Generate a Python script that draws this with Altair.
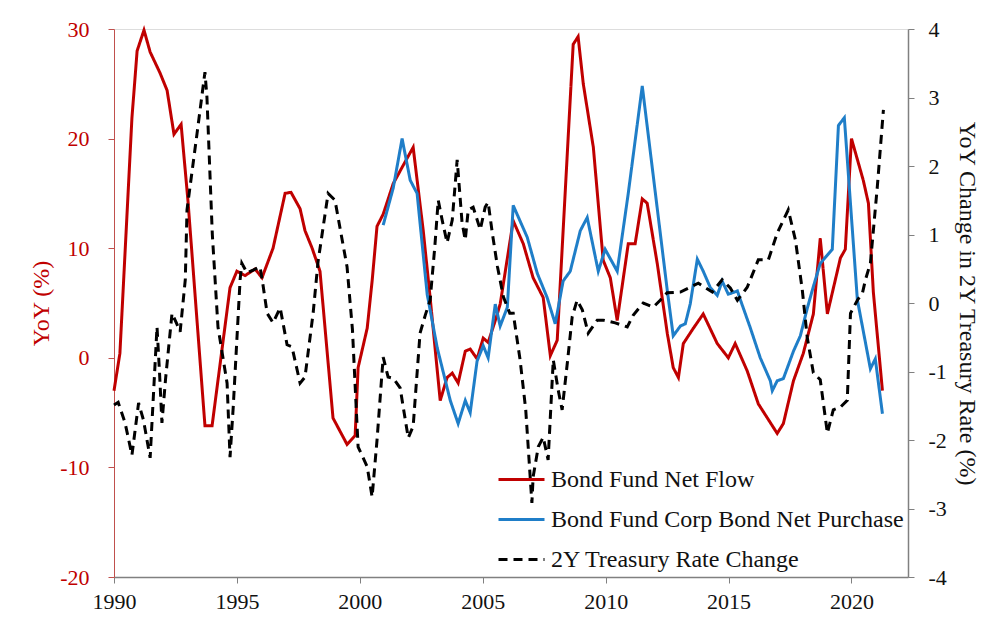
import altair as alt
import pandas as pd

# Bond Fund Net Flow (YoY %, left axis)
red_year = [1990.0, 1990.24, 1990.73, 1990.94, 1991.22, 1991.47, 1991.87, 1992.16, 1992.44, 1992.73,
            1993.01, 1993.7, 1993.99, 1994.72, 1995.0, 1995.33, 1995.74, 1996.02, 1996.47, 1996.96,
            1997.2, 1997.57, 1997.77, 1998.06, 1998.38, 1998.91, 1999.48, 1999.81, 1999.93, 2000.3,
            2000.5, 2000.7, 2000.95, 2001.36, 2001.75, 2002.17, 2002.58, 2002.86, 2003.27, 2003.55,
            2003.76, 2004.0, 2004.29, 2004.49, 2004.77, 2005.02, 2005.22, 2005.51, 2005.71, 2006.24,
            2006.65, 2007.05, 2007.46, 2007.75, 2008.03, 2008.68, 2008.88, 2009.09, 2009.5, 2009.9,
            2010.19, 2010.47, 2010.92, 2011.2, 2011.49, 2011.69, 2012.1, 2012.51, 2012.75, 2012.96,
            2013.16, 2013.57, 2013.97, 2014.54, 2014.99, 2015.27, 2015.76, 2016.21, 2016.98, 2017.23,
            2017.64, 2018.04, 2018.45, 2018.73, 2019.02, 2019.55, 2019.75, 2020.0, 2020.48, 2020.69,
            2020.89, 2021.26]
red_val = [-3.0, 0.4, 21.9, 28.0, 29.9, 27.9, 26.0, 24.4, 20.4, 21.3,
           14.3, -6.2, -6.2, 6.4, 7.9, 7.5, 8.1, 7.3, 10.0, 15.0,
           15.1, 13.6, 11.6, 10.0, 7.9, -5.5, -7.9, -7.1, -0.9, 2.7,
           7.0, 12.0, 13.1, 15.9, 17.5, 19.2, 11.6, 5.5, -3.9, -1.8,
           -1.4, -2.3, 0.6, 0.8, -0.1, 1.8, 1.4, 3.4, 4.9, 12.5,
           10.4, 7.3, 5.5, 0.2, 1.6, 28.6, 29.3, 25.0, 19.2, 8.9,
           7.3, 3.4, 10.4, 10.4, 14.5, 14.1, 8.6, 2.2, -0.9, -1.8,
           1.3, 2.7, 4.0, 1.3, 0.0, 1.3, -1.2, -4.2, -6.9, -6.0,
           -2.1, 0.4, 4.0, 10.9, 4.0, 9.1, 9.9, 20.0, 16.2, 14.1,
           6.0, -3.0]

# Bond Fund Corp Bond Net Purchase (YoY %, left axis)
blue_year = [2000.95, 2001.36, 2001.72, 2002.05, 2002.33, 2002.74, 2003.15, 2003.68, 2004.0, 2004.29,
             2004.49, 2004.77, 2005.02, 2005.22, 2005.51, 2005.71, 2006.0, 2006.24, 2006.81, 2007.22,
             2007.62, 2007.95, 2008.27, 2008.56, 2008.97, 2009.25, 2009.7, 2009.98, 2010.47, 2010.92,
             2011.49, 2012.51, 2012.75, 2013.04, 2013.24, 2013.44, 2013.73, 2013.97, 2014.26, 2014.54,
             2014.74, 2014.99, 2015.36, 2015.48, 2015.89, 2016.29, 2016.7, 2016.78, 2016.98, 2017.23,
             2017.64, 2017.92, 2018.2, 2018.45, 2018.73, 2019.22, 2019.47, 2019.71, 2020.24, 2020.77,
             2020.97, 2021.26]
blue_val = [12.1, 15.5, 20.0, 16.2, 15.0, 5.8, 0.9, -3.9, -6.0, -3.9,
            -5.0, -0.3, 1.1, 0.0, 4.9, 2.9, 4.6, 13.9, 11.0, 7.7,
            5.5, 3.1, 7.0, 7.9, 11.6, 12.8, 7.9, 9.9, 7.9, 15.0,
            24.8, 6.1, 2.0, 2.9, 3.1, 4.9, 9.0, 7.9, 6.4, 5.7,
            7.0, 5.8, 6.1, 5.3, 2.7, 0.0, -2.1, -3.0, -2.1, -1.9,
            0.6, 2.0, 4.5, 6.5, 8.6, 9.9, 21.2, 21.9, 5.3, -1.0,
            -0.1, -5.1]

# 2Y Treasury Rate Change (YoY change, %, right axis)
black_year = [1990.0, 1990.17, 1990.45, 1990.73, 1991.0, 1991.2, 1991.47, 1991.75, 1991.85, 1991.95,
              1992.1, 1992.36, 1992.55, 1992.69, 1992.9, 1992.97, 1993.38, 1993.7, 1993.78, 1994.0,
              1994.23, 1994.6, 1994.72, 1994.85, 1995.13, 1995.2, 1995.41, 1995.66, 1995.94, 1996.05,
              1996.23, 1996.47, 1996.76, 1997.04, 1997.24, 1997.57, 1997.77, 1998.1, 1998.3, 1998.71,
              1998.99, 1999.48, 1999.7, 1999.93, 2000.3, 2000.5, 2000.7, 2000.95, 2001.15, 2001.36,
              2001.64, 2001.97, 2002.17, 2002.45, 2002.66, 2002.86, 2003.05, 2003.19, 2003.35, 2003.55,
              2003.76, 2003.96, 2004.16, 2004.29, 2004.41, 2004.61, 2004.9, 2005.1, 2005.22, 2005.39,
              2005.6, 2005.84, 2006.1, 2006.24, 2006.52, 2006.75, 2007.0, 2007.05, 2007.26, 2007.46,
              2007.66, 2007.87, 2008.07, 2008.23, 2008.44, 2008.64, 2008.84, 2009.05, 2009.29, 2009.66,
              2009.9, 2010.39, 2010.88, 2011.12, 2011.53, 2011.94, 2012.22, 2012.5, 2013.04, 2013.77,
              2014.34, 2014.74, 2015.07, 2015.36, 2015.76, 2016.21, 2016.62, 2016.98, 2017.43, 2017.72,
              2018.0, 2018.2, 2018.45, 2018.73, 2019.02, 2019.26, 2019.55, 2019.83, 2019.96, 2020.24,
              2020.45, 2020.57, 2020.77, 2021.05, 2021.3]
black_val = [-1.49, -1.45, -1.75, -2.22, -1.46, -1.71, -2.26, -0.35, -1.0, -1.75,
             -1.1, -0.15, -0.3, -0.42, 0.34, 1.36, 2.48, 3.37, 3.01, 1.0,
             -0.35, -1.17, -2.25, -1.52, 0.34, 0.58, 0.44, 0.48, 0.53, 0.29,
             -0.15, -0.29, -0.07, -0.61, -0.64, -1.17, -1.08, -0.15, 0.6, 1.6,
             1.5, 0.53, -0.39, -2.1, -2.39, -2.83, -2.0, -0.79, -1.08, -1.1,
             -1.24, -1.97, -1.8, -0.44, -0.18, 0.04, 0.82, 1.5, 1.21, 0.88,
             1.21, 2.09, 1.17, 0.92, 1.36, 1.4, 1.07, 1.4, 1.47, 1.02,
             0.53, 0.09, -0.15, -0.15, -0.83, -1.56, -2.92, -2.54, -2.1, -1.96,
             -2.29, -0.83, -1.27, -1.56, -0.88, -0.2, 0.04, -0.1, -0.44, -0.25,
             -0.25, -0.29, -0.35, -0.18, 0.0, -0.06, 0.04, 0.15, 0.16, 0.29,
             0.16, 0.34, 0.22, 0.04, 0.23, 0.63, 0.63, 1.02, 1.36, 0.92,
             0.19, -0.5, -1.02, -1.12, -1.9, -1.56, -1.52, -1.42, -0.15, 0.04,
             0.15, 0.34, 0.58, 1.69, 2.82]

series_names = ["Bond Fund Net Flow", "Bond Fund Corp Bond Net Purchase", "2Y Treasury Rate Change"]
x_ticks = [1990, 1995, 2000, 2005, 2010, 2015, 2020]
left_ticks = [-20, -10, 0, 10, 20, 30]
right_ticks = [-4, -3, -2, -1, 0, 1, 2, 3, 4]

rows = []
for yr, v in zip(red_year, red_val):
    rows.append({"year": yr, "value": v, "series": series_names[0]})
for yr, v in zip(blue_year, blue_val):
    rows.append({"year": yr, "value": v, "series": series_names[1]})
for yr, v in zip(black_year, black_val):
    rows.append({"year": yr, "value": v, "series": series_names[2]})
df = pd.DataFrame(rows)

FONT = "Liberation Serif"
RED = "#C00000"
BLUE = "#1F7EC8"
HYPHEN_LABEL = "replace(datum.label, '\u2212', '-')"

legend = alt.Legend(
    title=None, orient="none", legendX=383, legendY=426, padding=0,
    symbolType="stroke", symbolSize=2116, symbolStrokeWidth=3,
    labelFont=FONT, labelFontSize=24, labelColor="#111111", labelOffset=5,
    rowPadding=3, labelLimit=500,
)

color = alt.Color("series:N", scale=alt.Scale(domain=series_names, range=[RED, BLUE, "#000000"]),
                  legend=legend)
dash = alt.StrokeDash("series:N", scale=alt.Scale(domain=series_names, range=[[1, 0], [1, 0], [9, 6]]),
                      legend=legend)

x = alt.X("year:Q", scale=alt.Scale(domain=[1990, 2022.3], nice=False, zero=False),
          axis=alt.Axis(values=x_ticks, format="d", title=None, grid=False, labelFlush=False,
                        labelFont=FONT, labelFontSize=22, labelColor="#111111",
                        domainColor="#808080", tickColor="#808080", tickSize=6,
                        labelPadding=8, domainWidth=1.5))

base = alt.Chart(df)

left = base.transform_filter(
    alt.FieldOneOfPredicate(field="series", oneOf=series_names[:2])
).mark_line(strokeWidth=3).encode(
    x=x,
    y=alt.Y("value:Q", scale=alt.Scale(domain=[-20, 30], nice=False),
            axis=alt.Axis(values=left_ticks, title="YoY (%)", grid=False, labelFlush=False,
                          labelExpr=HYPHEN_LABEL,
                          labelFont=FONT, labelFontSize=22, labelColor=RED,
                          titleFont=FONT, titleFontSize=24, titleColor=RED, titleFontWeight="normal",
                          titlePadding=6, domainColor="#C0504D", tickColor="#C0504D",
                          tickSize=6, labelPadding=19)),
    color=color,
    strokeDash=dash,
    order="year:Q",
)

right = base.transform_filter(
    alt.FieldEqualPredicate(field="series", equal=series_names[2])
).mark_line(strokeWidth=3).encode(
    x=x,
    y=alt.Y("value:Q", scale=alt.Scale(domain=[-4, 4], nice=False),
            axis=alt.Axis(values=right_ticks, orient="right", title="YoY Change in 2Y Treasury Rate (%)",
                          grid=False, labelFlush=False, labelExpr=HYPHEN_LABEL,
                          labelFont=FONT, labelFontSize=22, labelColor="#111111",
                          titleFont=FONT, titleFontSize=24, titleColor="#111111", titleFontWeight="normal",
                          titlePadding=8, domainColor="#808080", tickColor="#808080",
                          tickSize=6, labelPadding=14, domainWidth=1.5)),
    color=color,
    strokeDash=dash,
    order="year:Q",
)

chart = alt.layer(left, right).resolve_scale(y="independent").properties(
    width=794, height=548,
    autosize=alt.AutoSizeParams(type="none"),
    padding={"left": 106, "top": 21, "right": 79, "bottom": 42},
).configure_view(stroke=None).configure(background="white")

chart.save("out.html", embed_options={"renderer": "svg", "actions": False})
